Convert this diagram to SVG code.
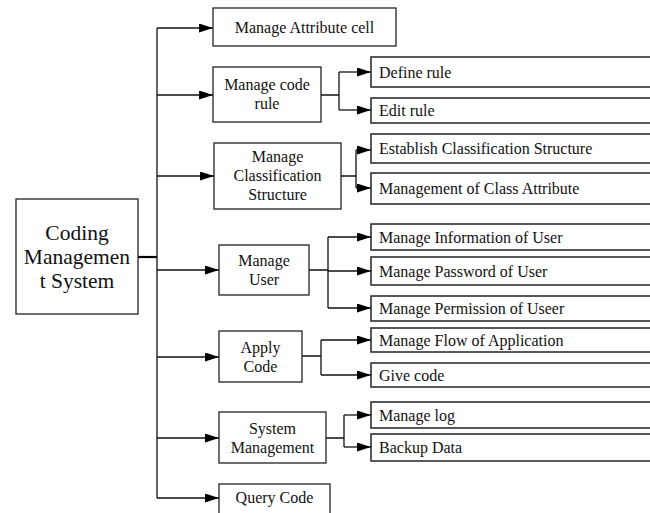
<svg xmlns="http://www.w3.org/2000/svg" width="650" height="513" viewBox="0 0 650 513">
<defs>
<style>
.box{fill:#fff;stroke:#222;stroke-width:1.3}
.leaf{fill:#fff;stroke:#222;stroke-width:1.5}
.t{font-family:"Liberation Serif","Times New Roman",serif;font-size:16px;fill:#111}
.c{text-anchor:middle}
.big{font-family:"Liberation Serif","Times New Roman",serif;font-size:21.5px;fill:#111;text-anchor:middle}
.ln{fill:none;stroke:#111;stroke-width:1.3}
.arr{fill:none;stroke:#111;stroke-width:1.3;marker-end:url(#ah)}
</style>
<marker id="ah" markerUnits="userSpaceOnUse" markerWidth="15" markerHeight="10" refX="14" refY="4.5" orient="auto">
<path d="M0,0 L14,4.5 L0,9 Z" fill="#000"/>
</marker>
</defs>
<rect width="650" height="513" fill="#fff"/>
<g id="connectors">
<line x1="138" y1="257" x2="157" y2="257" stroke="#000" stroke-width="2.2"/>
<line class="ln" x1="157" y1="28" x2="157" y2="498"/>
<line class="arr" x1="157" y1="28" x2="213" y2="28"/>
<line class="arr" x1="157" y1="95" x2="213" y2="95"/>
<line class="arr" x1="157" y1="176" x2="214" y2="176"/>
<line class="arr" x1="157" y1="270" x2="219" y2="270"/>
<line class="arr" x1="157" y1="357" x2="219" y2="357"/>
<line class="arr" x1="157" y1="438" x2="219" y2="438"/>
<line class="arr" x1="157" y1="498" x2="219" y2="498"/>
<path class="ln" d="M321,95 H339 M339,72 V110"/>
<line class="arr" x1="339" y1="72" x2="371" y2="72"/>
<line class="arr" x1="339" y1="110" x2="371" y2="110"/>
<path class="ln" d="M341,176 H356 M356,150 V188"/>
<line class="arr" x1="356" y1="150" x2="371" y2="150"/>
<line class="arr" x1="356" y1="188" x2="371" y2="188"/>
<path class="ln" d="M309,270 H328 M328,237 V308"/>
<line class="arr" x1="328" y1="237" x2="371" y2="237"/>
<line class="arr" x1="328" y1="271" x2="371" y2="271"/>
<line class="arr" x1="328" y1="308" x2="371" y2="308"/>
<path class="ln" d="M302,356 H321 M321,340 V375"/>
<line class="arr" x1="321" y1="340" x2="371" y2="340"/>
<line class="arr" x1="321" y1="375" x2="371" y2="375"/>
<path class="ln" d="M326,438 H344 M344,415 V447"/>
<line class="arr" x1="344" y1="415" x2="371" y2="415"/>
<line class="arr" x1="344" y1="447" x2="371" y2="447"/>
</g>
<g id="root">
<rect class="box" x="16" y="199" width="122" height="115"/>
<text class="big" x="77" y="240">Coding</text>
<text class="big" x="77" y="264">Managemen</text>
<text class="big" x="77" y="288">t System</text>
</g>
<g id="n-attr"><rect class="box" x="213" y="8" width="183" height="38"/><text class="t c" x="304.5" y="33">Manage Attribute cell</text></g>
<g id="n-rule"><rect class="box" x="213" y="67" width="108" height="55"/><text class="t c" x="267" y="90">Manage code</text><text class="t c" x="267" y="109">rule</text></g>
<g id="n-class"><rect class="box" x="214" y="143" width="127" height="66"/><text class="t c" x="277.5" y="162">Manage</text><text class="t c" x="277.5" y="181">Classification</text><text class="t c" x="277.5" y="200">Structure</text></g>
<g id="n-user"><rect class="box" x="219" y="245" width="90" height="50"/><text class="t c" x="264" y="265.5">Manage</text><text class="t c" x="264" y="284.5">User</text></g>
<g id="n-apply"><rect class="box" x="219" y="331" width="83" height="51"/><text class="t c" x="260.5" y="352.5">Apply</text><text class="t c" x="260.5" y="371.5">Code</text></g>
<g id="n-sys"><rect class="box" x="219" y="412" width="107" height="51"/><text class="t c" x="272.5" y="433.5">System</text><text class="t c" x="272.5" y="452.5">Management</text></g>
<g id="n-query"><rect class="box" x="219" y="484" width="111" height="40"/><text class="t c" x="274.5" y="503">Query Code</text></g>
<g id="l-define"><rect class="leaf" x="371" y="57" width="300" height="30"/><text class="t" x="379" y="77.5">Define rule</text></g>
<g id="l-edit"><rect class="leaf" x="371" y="98" width="300" height="25"/><text class="t" x="379" y="116">Edit rule</text></g>
<g id="l-establish"><rect class="leaf" x="371" y="134" width="300" height="29"/><text class="t" x="379" y="154">Establish Classification Structure</text></g>
<g id="l-classattr"><rect class="leaf" x="371" y="173" width="300" height="31"/><text class="t" x="379" y="194">Management of Class Attribute</text></g>
<g id="l-info"><rect class="leaf" x="371" y="224" width="300" height="26"/><text class="t" x="379" y="242.5">Manage Information of User</text></g>
<g id="l-pass"><rect class="leaf" x="371" y="257" width="300" height="28"/><text class="t" x="379" y="276.5">Manage Password of User</text></g>
<g id="l-perm"><rect class="leaf" x="371" y="296" width="300" height="25"/><text class="t" x="379" y="314">Manage Permission of Useer</text></g>
<g id="l-flow"><rect class="leaf" x="371" y="328" width="300" height="24"/><text class="t" x="379" y="345.5">Manage Flow of Application</text></g>
<g id="l-give"><rect class="leaf" x="371" y="363" width="300" height="24"/><text class="t" x="379" y="380.5">Give code</text></g>
<g id="l-log"><rect class="leaf" x="371" y="402" width="300" height="26"/><text class="t" x="379" y="420.5">Manage log</text></g>
<g id="l-backup"><rect class="leaf" x="371" y="434" width="300" height="27"/><text class="t" x="379" y="453">Backup Data</text></g>
</svg>
